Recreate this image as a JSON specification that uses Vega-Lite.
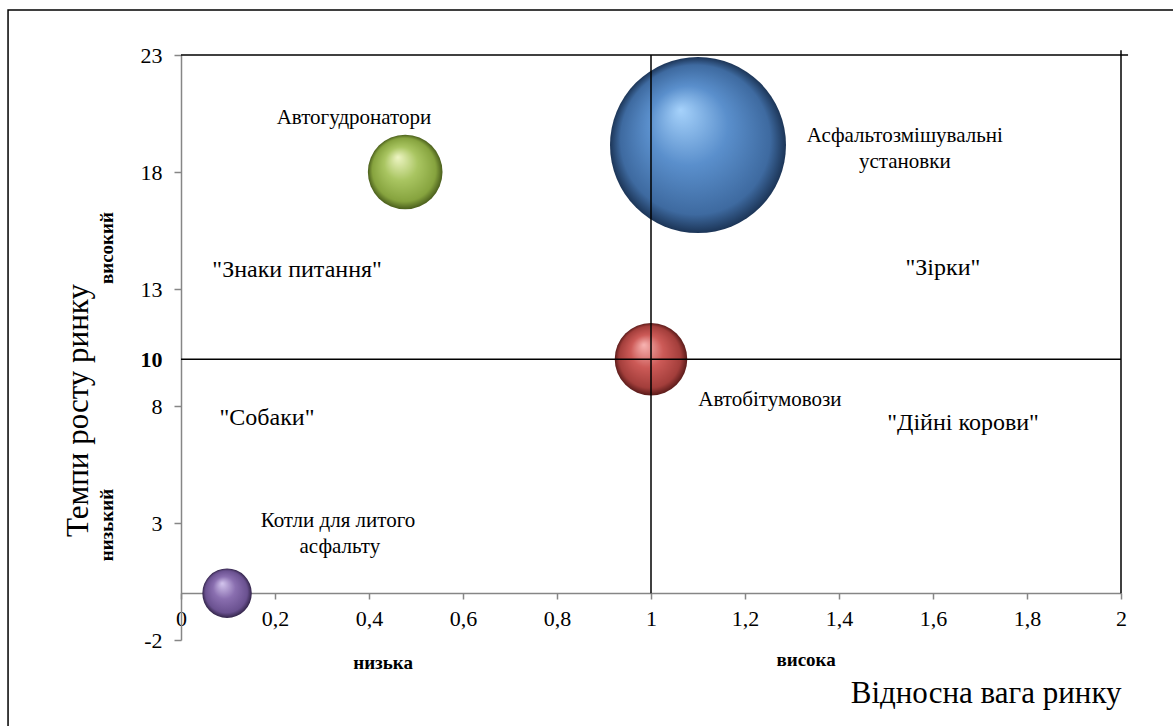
{
  "$schema": "https://vega.github.io/schema/vega-lite/v6.json",
  "width": 940,
  "height": 585,
  "autosize": {"type": "none"},
  "padding": {"left": 181, "top": 55, "right": 52, "bottom": 86},
  "background": "white",
  "config": {
    "view": {"stroke": null},
    "font": "Liberation Serif",
    "text": {"color": "#000", "font": "Liberation Serif"}
  },
  "datasets": {
    "bubbles": [
      {"name": "Асфальтозмішувальні установки", "share": 1.1, "growth": 19.15, "volume": 100},
      {"name": "Автогудронатори", "share": 0.477, "growth": 18.0, "volume": 18},
      {"name": "Автобітумовози", "share": 1.0, "growth": 10.0, "volume": 17},
      {"name": "Котли для литого асфальту", "share": 0.098, "growth": 0.0, "volume": 7.9}
    ],
    "lines": [
      {"x": 0, "x2": 2, "y": 10, "y2": 10},
      {"x": 0, "x2": 2.015, "y": 23, "y2": 23},
      {"x": 1, "x2": 1, "y": 0, "y2": 23},
      {"x": 2, "x2": 2, "y": 0, "y2": 23.2}
    ],
    "frame": [
      {"x": -0.368, "x2": 2.4, "y": 24.92, "y2": -7.5}
    ],
    "labels": [
      {"text": "Автогудронатори", "x": 0.368, "y": 20.31, "kind": "bubble"},
      {"text": "Асфальтозмішувальні", "x": 1.54, "y": 19.54, "kind": "bubble"},
      {"text": "установки", "x": 1.54, "y": 18.43, "kind": "bubble"},
      {"text": "Автобітумовози", "x": 1.253, "y": 8.26, "kind": "bubble"},
      {"text": "Котли для литого", "x": 0.334, "y": 3.09, "kind": "bubble"},
      {"text": "асфальту", "x": 0.338, "y": 1.97, "kind": "bubble"},
      {"text": "\"Знаки питання\"", "x": 0.247, "y": 13.81, "kind": "quadrant"},
      {"text": "\"Собаки\"", "x": 0.183, "y": 7.49, "kind": "quadrant"},
      {"text": "\"Зірки\"", "x": 1.621, "y": 13.9, "kind": "quadrant"},
      {"text": "\"Дійні корови\"", "x": 1.664, "y": 7.27, "kind": "quadrant"},
      {"text": "низька", "x": 0.43, "y": -2.98, "kind": "small"},
      {"text": "висока", "x": 1.33, "y": -2.85, "kind": "small"}
    ],
    "vlabels": [
      {"text": "високий", "x": -0.158, "y": 14.75},
      {"text": "низький", "x": -0.158, "y": 2.91}
    ]
  },
  "layer": [
    {
      "data": {"name": "frame"},
      "mark": {"type": "rect", "fill": null, "stroke": "#000", "strokeWidth": 1.5, "clip": false},
      "encoding": {
        "x": {"field": "x", "type": "quantitative", "scale": {"domain": [0, 2], "nice": false, "zero": false}},
        "x2": {"field": "x2"},
        "y": {"field": "y", "type": "quantitative", "scale": {"domain": [-2, 23], "nice": false, "zero": false}},
        "y2": {"field": "y2"}
      }
    },
    {
      "data": {"name": "bubbles"},
      "transform": [{"filter": "datum.name === 'Асфальтозмішувальні установки'"}],
      "mark": {"type": "circle", "opacity": 1, "fill": {"gradient": "radial", "x1": 0.4, "y1": 0.3, "r1": 0, "x2": 0.5, "y2": 0.5, "r2": 0.5, "stops": [{"offset": 0, "color": "#a6d2fb"}, {"offset": 0.45, "color": "#5a8fcc"}, {"offset": 0.85, "color": "#3e6aa0"}, {"offset": 1, "color": "#1c3557"}]}},
      "encoding": {
        "x": {"field": "share", "type": "quantitative"},
        "y": {"field": "growth", "type": "quantitative"},
        "size": {"field": "volume", "type": "quantitative", "scale": {"domain": [0, 100], "range": [0, 30976]}, "legend": null}
      }
    },
    {
      "data": {"name": "bubbles"},
      "transform": [{"filter": "datum.name === 'Автогудронатори'"}],
      "mark": {"type": "circle", "opacity": 1, "fill": {"gradient": "radial", "x1": 0.4, "y1": 0.3, "r1": 0, "x2": 0.5, "y2": 0.5, "r2": 0.5, "stops": [{"offset": 0, "color": "#eef5c4"}, {"offset": 0.45, "color": "#a9c561"}, {"offset": 0.85, "color": "#86a33e"}, {"offset": 1, "color": "#4a5e1c"}]}},
      "encoding": {
        "x": {"field": "share", "type": "quantitative"},
        "y": {"field": "growth", "type": "quantitative"},
        "size": {"field": "volume", "type": "quantitative", "scale": {"domain": [0, 100], "range": [0, 30976]}, "legend": null}
      }
    },
    {
      "data": {"name": "bubbles"},
      "transform": [{"filter": "datum.name === 'Автобітумовози'"}],
      "mark": {"type": "circle", "opacity": 1, "fill": {"gradient": "radial", "x1": 0.4, "y1": 0.3, "r1": 0, "x2": 0.5, "y2": 0.5, "r2": 0.5, "stops": [{"offset": 0, "color": "#f8b4b2"}, {"offset": 0.45, "color": "#cc5a57"}, {"offset": 0.85, "color": "#a33e3b"}, {"offset": 1, "color": "#5a1b1a"}]}},
      "encoding": {
        "x": {"field": "share", "type": "quantitative"},
        "y": {"field": "growth", "type": "quantitative"},
        "size": {"field": "volume", "type": "quantitative", "scale": {"domain": [0, 100], "range": [0, 30976]}, "legend": null}
      }
    },
    {
      "data": {"name": "bubbles"},
      "transform": [{"filter": "datum.name === 'Котли для литого асфальту'"}],
      "mark": {"type": "circle", "opacity": 1, "fill": {"gradient": "radial", "x1": 0.4, "y1": 0.3, "r1": 0, "x2": 0.5, "y2": 0.5, "r2": 0.5, "stops": [{"offset": 0, "color": "#d4c6ee"}, {"offset": 0.45, "color": "#8a6fb0"}, {"offset": 0.85, "color": "#6a5190"}, {"offset": 1, "color": "#33254a"}]}},
      "encoding": {
        "x": {"field": "share", "type": "quantitative"},
        "y": {"field": "growth", "type": "quantitative"},
        "size": {"field": "volume", "type": "quantitative", "scale": {"domain": [0, 100], "range": [0, 30976]}, "legend": null}
      }
    },
    {
      "data": {"name": "lines"},
      "mark": {"type": "rule", "color": "#000", "strokeWidth": 1.5, "clip": false},
      "encoding": {
        "x": {
          "field": "x", "type": "quantitative",
          "axis": {
            "offset": -47,
            "values": [0, 0.2, 0.4, 0.6, 0.8, 1, 1.2, 1.4, 1.6, 1.8, 2],
            "labelExpr": "replace(format(datum.value, '.1~f'), '.', ',')",
            "labelFont": "Liberation Serif", "labelFontSize": 22, "labelColor": "#000",
            "labelPadding": 9, "labelFlush": false,
            "domainColor": "#868686", "domainWidth": 1.5,
            "tickColor": "#868686", "tickSize": 6, "tickWidth": 1.5,
            "grid": false,
            "title": "Відносна вага ринку",
            "titleFont": "Liberation Serif", "titleFontSize": 31, "titleFontWeight": "normal", "titleColor": "#000",
            "titleX": 940, "titleY": 100, "titleAlign": "right", "titleBaseline": "middle"
          }
        },
        "x2": {"field": "x2"},
        "y": {
          "field": "y", "type": "quantitative",
          "axis": {
            "values": [-2, 3, 8, 10, 13, 18, 23],
            "labelExpr": "'' + datum.value",
            "labelFont": "Liberation Serif", "labelFontSize": 22, "labelColor": "#000",
            "labelFontWeight": {"condition": {"test": "datum.value === 10", "value": "bold"}, "value": "normal"},
            "tickOpacity": {"condition": {"test": "datum.value === 10", "value": 0}, "value": 1},
            "labelPadding": 12,
            "domainColor": "#868686", "domainWidth": 1.5,
            "tickColor": "#868686", "tickSize": 7, "tickWidth": 1.5,
            "grid": false,
            "title": "Темпи росту ринку",
            "titleFont": "Liberation Serif", "titleFontSize": 31, "titleFontWeight": "normal", "titleColor": "#000",
            "titleX": -103, "titleY": 355, "titleAlign": "center", "titleBaseline": "middle", "titleAngle": -90
          }
        },
        "y2": {"field": "y2"}
      }
    },
    {
      "data": {"name": "labels"},
      "transform": [{"filter": "datum.kind === 'bubble'"}],
      "mark": {"type": "text", "fontSize": 21, "align": "center", "baseline": "middle", "clip": false},
      "encoding": {
        "x": {"field": "x", "type": "quantitative"},
        "y": {"field": "y", "type": "quantitative"},
        "text": {"field": "text"}
      }
    },
    {
      "data": {"name": "labels"},
      "transform": [{"filter": "datum.kind === 'quadrant'"}],
      "mark": {"type": "text", "fontSize": 24, "align": "center", "baseline": "middle", "clip": false},
      "encoding": {
        "x": {"field": "x", "type": "quantitative"},
        "y": {"field": "y", "type": "quantitative"},
        "text": {"field": "text"}
      }
    },
    {
      "data": {"name": "labels"},
      "transform": [{"filter": "datum.kind === 'small'"}],
      "mark": {"type": "text", "fontSize": 19, "fontWeight": "bold", "align": "center", "baseline": "middle", "clip": false},
      "encoding": {
        "x": {"field": "x", "type": "quantitative"},
        "y": {"field": "y", "type": "quantitative"},
        "text": {"field": "text"}
      }
    },
    {
      "data": {"name": "vlabels"},
      "mark": {"type": "text", "fontSize": 19, "fontWeight": "bold", "angle": 270, "align": "center", "baseline": "middle", "clip": false},
      "encoding": {
        "x": {"field": "x", "type": "quantitative"},
        "y": {"field": "y", "type": "quantitative"},
        "text": {"field": "text"}
      }
    }
  ]
}
